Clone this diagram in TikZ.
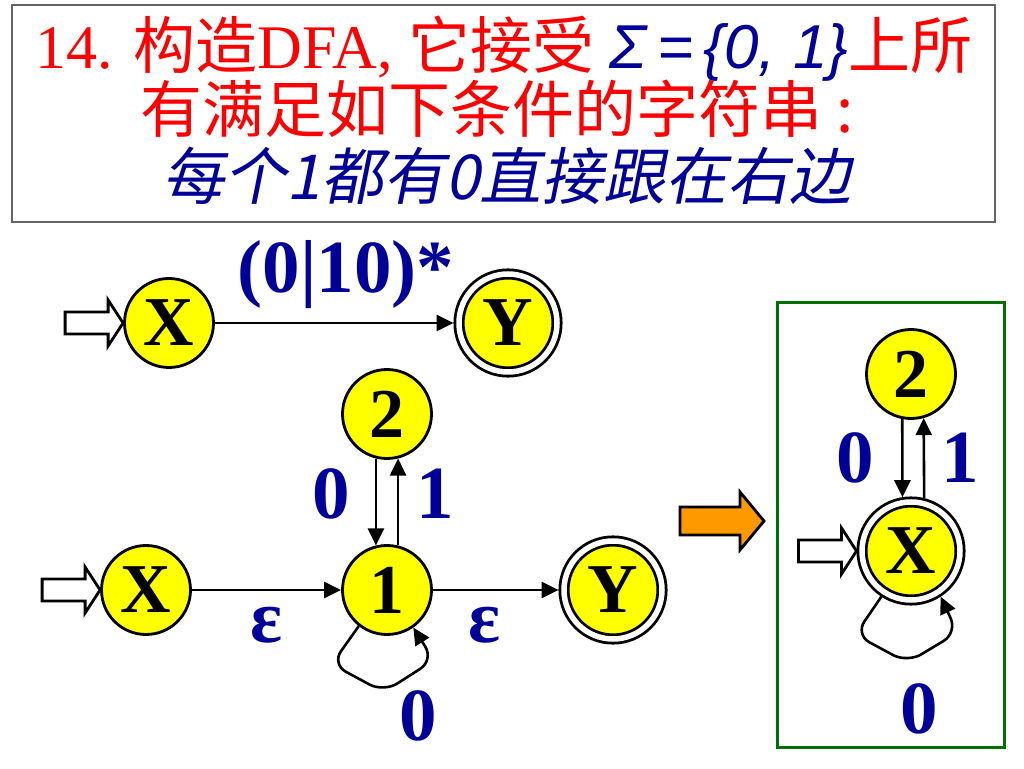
\documentclass[tikz,border=0pt]{standalone}
\usepackage{fontspec}
\setmainfont{Liberation Serif}
\newfontfamily\cjk{Noto Sans CJK SC}
\newfontfamily\cjkit[FakeSlant=0.2]{Noto Sans CJK SC}
\newfontfamily\sansf{Liberation Sans}
\usetikzlibrary{arrows.meta, calc}
\definecolor{lblue}{RGB}{0,0,153}
\definecolor{sred}{RGB}{255,0,0}
\definecolor{syellow}{RGB}{255,255,0}
\definecolor{sorange}{RGB}{255,153,0}
\definecolor{sgreen}{RGB}{0,112,0}
\definecolor{sgray}{RGB}{100,100,100}
\newcommand{\drawe}{\draw[line width=2.8pt]}
\newcommand{\startarrow}[1]{\drawe[fill=white] ($(#1.west)+(-58,-11)$) -- ++(43,0) -- ++(0,-12) -- (#1.west) -- ++(-15,23) -- ++(0,-12) -- ++(-43,0) -- cycle;}

\begin{document}
\begin{tikzpicture}[x=1pt, y=1pt, >={Triangle[length=17pt,width=16pt]},
  state/.style={circle, draw, fill=syellow, line width=2.8pt, minimum size=89pt, inner sep=0pt, font=\fontsize{70}{70}\selectfont\bfseries},
  accept/.style={state, double, double distance=5.5pt, minimum size=98pt, outer sep=5.5pt},
  lab/.style={anchor=base, text=lblue, font=\fontsize{75}{75}\selectfont\bfseries},
  trans/.style={->, line width=2.6pt}]
\path[use as bounding box, fill=white] (0,0) rectangle (1024,768);
% Đề bài
\draw[sgray, line width=1.5pt] (12,546) rectangle (995,763);
\node[anchor=base, text=sred, font=\fontsize{62}{62}\selectfont] (t1) at (504,699) {14. {\cjk 构造}DFA, {\cjk 它接受} {\sansf\itshape\color{lblue}Σ\,=\,\{0, 1\}}{\cjk 上所}};
\node[anchor=base, text=sred, font=\fontsize{62}{62}\selectfont] (t2) at (497,635) {\cjk 有满足如下条件的字符串 :};
\node[anchor=base, text=lblue, font=\fontsize{62}{62}\selectfont] (t3) at (507,568) {\cjkit 每个1都有0直接跟在右边};
% Biểu thức chính quy
\node[state] (X1) at (169,445) {X};
\node[accept] (Y1) at (508,445) {Y};
\startarrow{X1}
\draw[trans] (X1) -- (Y1);
\node[lab] (re) at (346,475) {(0|10)*};
% NFA
\node[state] (X2) at (146,178) {X};
\node[state] (n1) at (387,178) {1};
\node[state] (n2) at (387,354) {2};
\node[accept] (Y2) at (613,178) {Y};
\startarrow{X2}
\draw[trans] (X2) -- (n1);
\draw[trans] (n1) -- (Y2);
\draw[trans] (n2.-104) -- (n1.104);
\draw[trans] (n1.76) -- (n2.-76);
\draw[trans, rounded corners=16pt] (n1.-128) -- ++(-27,-38) -- ++(52,-28) -- ++(50,32) -- (n1.-55);
\node[lab] (e1) at (267,125) {ε};
\node[lab] (e2) at (485,125) {ε};
\node[lab] (a0) at (331,249) {0};
\node[lab] (a1) at (435,249) {1};
\node[lab] (a2) at (418,28) {0};
% Mũi tên chuyển
\drawe[fill=sorange] (680,233) -- (740,233) -- (740,218) -- (764,247) -- (740,276) -- (740,261) -- (680,261) -- cycle;
% DFA
\draw[sgreen, line width=3pt] (777,21) rectangle (1004,465);
\node[state] (r2) at (911,394) {2};
\node[accept] (rX) at (911,217) {X};
\startarrow{rX}
\draw[trans] (r2.-101) -- (rX.99.5);
\draw[trans] (rX.76) -- (r2.-74);
\draw[trans, rounded corners=16pt] (rX.-123) -- ++(-26,-38) -- ++(52,-28) -- ++(50,30) -- (rX.-57);
\node[lab] (b0) at (855,285) {0};
\node[lab] (b1) at (960,285) {1};
\node[lab] (b2) at (919,35) {0};
\end{tikzpicture}
\end{document}
